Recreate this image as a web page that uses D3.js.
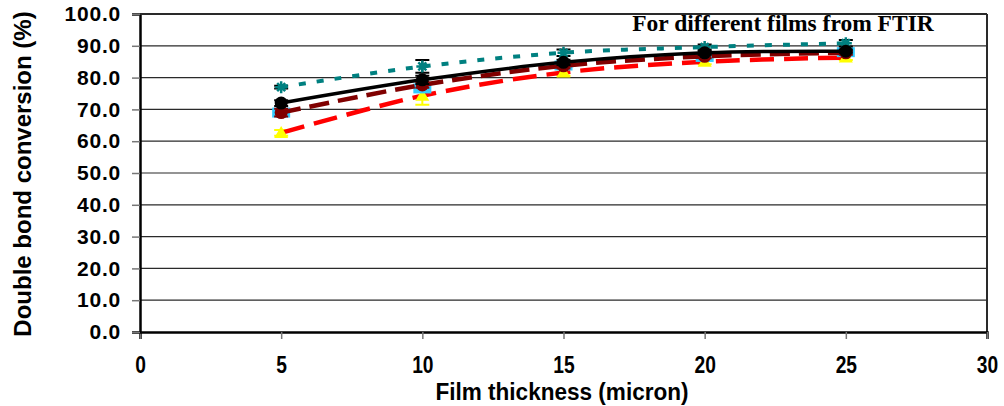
<!DOCTYPE html>
<html>
<head>
<meta charset="utf-8">
<script src="https://cdn.jsdelivr.net/npm/d3@7"></script>
<style>
  body { margin: 0; background: #fff; }
  svg { display: block; }
</style>
</head>
<body>
<div id="chart"></div>
<script>
"use strict";

const thickness = [5, 10, 15, 20, 25];
const blackVals = [72.0, 79.3, 84.8, 87.8, 88.3];
const tealVals = [77.0, 83.5, 87.8, 89.6, 90.8];
const darkRedVals = [69.0, 77.7, 83.7, 86.7, 87.8];
const redVals = [62.6, 74.3, 81.6, 85.0, 86.3];
const cyanVals = [69.0, 76.6, 83.8, 86.5, 88.0];

const blackErr = [0.9, 1.3, 0.8, 0.6, 0.5];
const tealErr = [0.4, 2.0, 1.0, 0.8, 1.0];
const darkRedErr = [1.2, 0.9, 0.8, 0.6, 0.6];
const redErr = [0.9, 2.8, 1.0, 0.8, 0.8];
const cyanErr = [0.8, 0.8, 0.6, 0.5, 0.5];

const xTicks = [0, 5, 10, 15, 20, 25, 30];
const yTicks = [0, 10, 20, 30, 40, 50, 60, 70, 80, 90, 100];

const svgWidth = 1004;
const svgHeight = 406;
const plotLeft = 140, plotRight = 987, plotTop = 14, plotBottom = 332;

const svg = d3.select("#chart")
  .append("svg")
  .attr("width", svgWidth)
  .attr("height", svgHeight);

const xScale = d3.scaleLinear().domain([0, 30]).range([plotLeft, plotRight]);
const yScale = d3.scaleLinear().domain([0, 100]).range([plotBottom, plotTop]);

// gridlines
svg.append("g")
  .selectAll("line")
  .data(yTicks.filter(d => d > 0))
  .enter()
  .append("line")
  .attr("x1", plotLeft)
  .attr("x2", plotRight)
  .attr("y1", d => yScale(d))
  .attr("y2", d => yScale(d))
  .attr("stroke", "#2a2a2a")
  .attr("stroke-width", 1.2);

// plot border (right side)
svg.append("line")
  .attr("x1", plotRight).attr("x2", plotRight)
  .attr("y1", plotTop).attr("y2", plotBottom)
  .attr("stroke", "#2a2a2a")
  .attr("stroke-width", 2);

const xAxis = d3.axisBottom(xScale).tickValues(xTicks).tickSize(7).tickFormat(d3.format("d"));
const yAxis = d3.axisLeft(yScale).tickValues(yTicks).tickSize(8).tickFormat(d3.format(".1f"));

const gx = svg.append("g")
  .attr("transform", `translate(0, ${plotBottom})`)
  .call(xAxis);
gx.select(".domain").attr("stroke", "#000").attr("stroke-width", 2.5);
gx.selectAll(".tick line").attr("stroke", "#777").attr("stroke-width", 1.5);
// condensed look of the original labels
gx.selectAll(".tick text")
  .attr("y", 0)
  .attr("dy", 0)
  .attr("transform", "translate(0, 41) scale(0.8, 1)")
  .style("font-family", "'Liberation Sans', Arial, sans-serif")
  .style("font-weight", "bold")
  .style("font-size", "24px")
  .attr("fill", "#000");

const gy = svg.append("g")
  .attr("transform", `translate(${plotLeft}, 0)`)
  .call(yAxis);
gy.select(".domain").attr("stroke", "#000").attr("stroke-width", 2.5);
gy.selectAll(".tick line").attr("stroke", "#777").attr("stroke-width", 1.5);
gy.selectAll(".tick text")
  .attr("x", -19)
  .style("font-family", "'Liberation Sans', Arial, sans-serif")
  .style("font-weight", "bold")
  .style("font-size", "21px")
  .style("letter-spacing", "0.8px")
  .attr("fill", "#000");

// top border
svg.append("line")
  .attr("x1", plotLeft).attr("x2", plotRight)
  .attr("y1", plotTop).attr("y2", plotTop)
  .attr("stroke", "#2a2a2a")
  .attr("stroke-width", 2);

const series = [
  { vals: redVals, err: redErr, color: "#ff0000", dash: "24,10", width: 4.5, marker: "triangle", mcolor: "#ffff00", ecolor: "#ffff00" },
  { vals: cyanVals, err: cyanErr, color: null, dash: null, width: 0, marker: "rect", mcolor: "#33ccff", ecolor: "#33ccff" },
  { vals: darkRedVals, err: darkRedErr, color: "#800000", dash: "20,9", width: 4.5, marker: "circle", mcolor: "#800000", ecolor: "#800000" },
  { vals: tealVals, err: tealErr, color: "#008080", dash: "7,11", width: 4, marker: "star", mcolor: "#008080", ecolor: "#000" },
  { vals: blackVals, err: blackErr, color: "#000", dash: null, width: 3.5, marker: "circle", mcolor: "#000", ecolor: "#000" }
];

const line = d3.line()
  .x(d => xScale(d[0]))
  .y(d => yScale(d[1]))
  .curve(d3.curveCatmullRom.alpha(0.5));

for (const s of series) {
  const pts = thickness.map((t, i) => [t, s.vals[i], s.err[i]]);
  const g = svg.append("g");

  // error bars
  g.selectAll("path.err")
    .data(pts)
    .enter()
    .append("path")
    .attr("class", "err")
    .attr("d", d => {
      const x = xScale(d[0]), y1 = yScale(d[1] + d[2]), y2 = yScale(d[1] - d[2]);
      return `M${x},${y1}V${y2}M${x - 7},${y1}H${x + 7}M${x - 7},${y2}H${x + 7}`;
    })
    .attr("fill", "none")
    .attr("stroke", s.ecolor)
    .attr("stroke-width", 2);

  if (s.color) {
    g.append("path")
      .datum(pts)
      .attr("d", line)
      .attr("fill", "none")
      .attr("stroke", s.color)
      .attr("stroke-width", s.width)
      .attr("stroke-dasharray", s.dash);
  }

  const m = g.selectAll("g.mk")
    .data(pts)
    .enter()
    .append("g")
    .attr("transform", d => `translate(${xScale(d[0])}, ${yScale(d[1])})`);

  if (s.marker === "circle") {
    m.append("circle").attr("r", 6.5).attr("fill", s.mcolor);
  } else if (s.marker === "triangle") {
    m.append("path").attr("d", "M0,-7L7,5L-7,5Z").attr("fill", s.mcolor);
  } else if (s.marker === "rect") {
    m.append("rect").attr("x", -9).attr("y", -5).attr("width", 18).attr("height", 10).attr("fill", s.mcolor);
  } else if (s.marker === "star") {
    m.append("path")
      .attr("d", "M-6,0H6M0,-6V6M-4,-4L4,4M-4,4L4,-4")
      .attr("stroke", s.mcolor)
      .attr("stroke-width", 2.5);
  }
}

// chart title
svg.append("text")
  .attr("x", 783)
  .attr("y", 31)
  .attr("text-anchor", "middle")
  .style("font-family", "'Liberation Serif', 'Times New Roman', serif")
  .style("font-weight", "bold")
  .style("font-size", "23.5px")
  .text("For different films from FTIR");

// axis titles
svg.append("text")
  .attr("transform", "translate(562, 400) scale(0.94, 1)")
  .attr("text-anchor", "middle")
  .style("font-family", "'Liberation Sans', Arial, sans-serif")
  .style("font-weight", "bold")
  .style("font-size", "24px")
  .text("Film thickness (micron)");

svg.append("text")
  .attr("transform", "translate(31, 174) rotate(-90)")
  .attr("text-anchor", "middle")
  .style("font-family", "'Liberation Sans', Arial, sans-serif")
  .style("font-weight", "bold")
  .style("font-size", "24px")
  .text("Double bond conversion (%)");
</script>
</body>
</html>
